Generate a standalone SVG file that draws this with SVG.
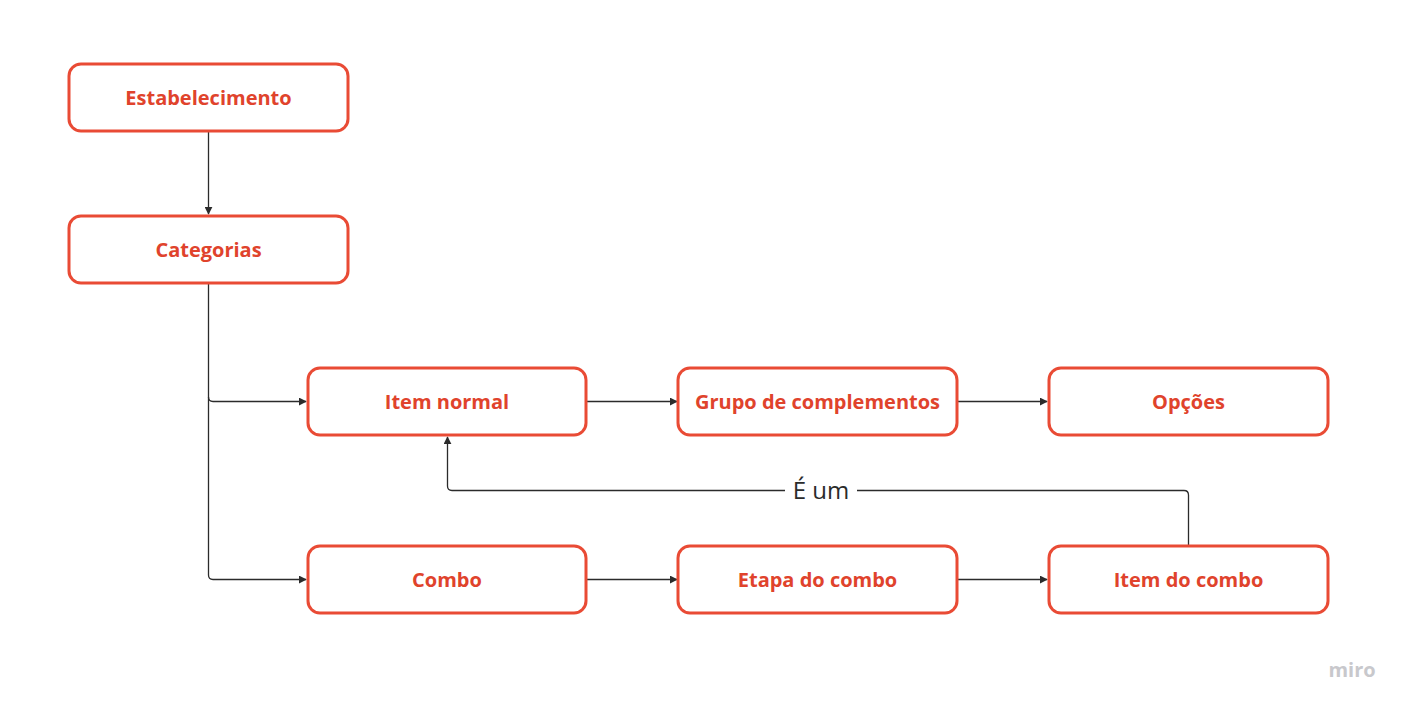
<svg xmlns="http://www.w3.org/2000/svg" width="1408" height="710" viewBox="0 0 1408 710">
<style>
.n rect{fill:#fff;stroke:#e94b35;stroke-width:3}
.n text{font-family:"Open Sans","Liberation Sans",sans-serif;font-weight:bold;font-size:20px;fill:#e0432c;text-anchor:middle}
.c path{fill:none;stroke:#2b2b2b;stroke-width:1.3}
</style>
<defs><marker id="a" viewBox="0 0 10 10" refX="9" refY="5" markerWidth="8" markerHeight="8" markerUnits="userSpaceOnUse" orient="auto"><path d="M0,0L10,5L0,10z" fill="#2b2b2b"/></marker></defs>
<rect width="1408" height="710" fill="#fff"/>
<g class="c">
<path d="M208.5,132V214" marker-end="url(#a)"/>
<path d="M208.5,284V397Q208.5,401.5 213,401.5H306" marker-end="url(#a)"/>
<path d="M208.5,397V575Q208.5,579.5 213,579.5H306" marker-end="url(#a)"/>
<path d="M587,401.5H677" marker-end="url(#a)"/>
<path d="M957,401.5H1047" marker-end="url(#a)"/>
<path d="M587,579.5H677" marker-end="url(#a)"/>
<path d="M957,579.5H1047" marker-end="url(#a)"/>
<path d="M1188.5,545V495Q1188.5,490.5 1184,490.5H857M785,490.5H452Q447.5,490.5 447.5,486V437" marker-end="url(#a)"/>
<text x="821" y="499" font-family="Open Sans,Liberation Sans,sans-serif" font-size="24" fill="#2b2b2b" text-anchor="middle">É um</text>
</g>
<g id="n1" class="n"><rect x="69" y="64" width="279" height="67" rx="12"/><text x="208.5" y="105">Estabelecimento</text></g>
<g id="n2" class="n"><rect x="69" y="216" width="279" height="67" rx="12"/><text x="208.5" y="257">Categorias</text></g>
<g id="n3" class="n"><rect x="308" y="368" width="278" height="67" rx="12"/><text x="447" y="409">Item normal</text></g>
<g id="n4" class="n"><rect x="678" y="368" width="279" height="67" rx="12"/><text x="817.5" y="409">Grupo de complementos</text></g>
<g id="n5" class="n"><rect x="1049" y="368" width="279" height="67" rx="12"/><text x="1188.5" y="409">Opções</text></g>
<g id="n6" class="n"><rect x="308" y="546" width="278" height="67" rx="12"/><text x="447" y="587">Combo</text></g>
<g id="n7" class="n"><rect x="678" y="546" width="279" height="67" rx="12"/><text x="817.5" y="587">Etapa do combo</text></g>
<g id="n8" class="n"><rect x="1049" y="546" width="279" height="67" rx="12"/><text x="1188.5" y="587">Item do combo</text></g>
<text x="1352" y="677" font-family="Open Sans,Liberation Sans,sans-serif" font-weight="bold" font-size="20" fill="#c8c8cc" text-anchor="middle">miro</text>
</svg>
